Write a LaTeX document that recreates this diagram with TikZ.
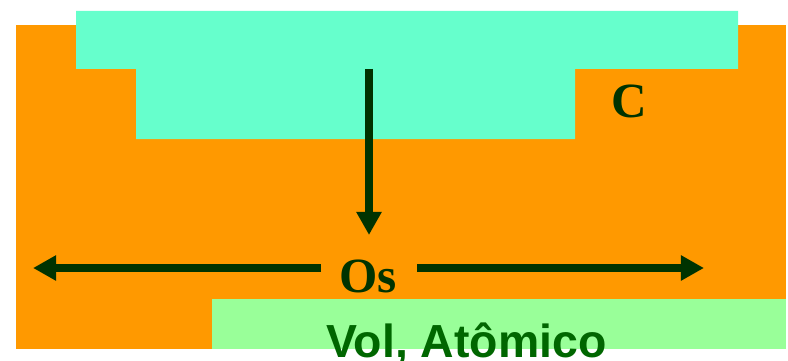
\documentclass[tikz,border=0pt]{standalone}
\usepackage{fontspec}
\usepackage{tikz}
\usetikzlibrary{arrows.meta,positioning,calc}
\usepackage{xcolor}
\newfontfamily\serifbold{Liberation Serif}
\newfontfamily\sansbold{Liberation Sans}
\definecolor{orangefill}{HTML}{FF9900}
\definecolor{aquafill}{HTML}{66FFCC}
\definecolor{palegreen}{HTML}{99FF99}
\definecolor{darkgreen}{HTML}{003300}
\definecolor{textgreen}{HTML}{006600}

\begin{document}
\begin{tikzpicture}[x=0.025cm, y=-0.025cm,
    flow/.style={-{Triangle[length=16.4pt, width=17pt]}, line width=5.7pt, darkgreen},
    elem/.style={font=\serifbold\bfseries\fontsize{35}{40}\selectfont, text=darkgreen, inner sep=0pt, anchor=base}]
  \useasboundingbox (0,0) rectangle (788,361);

  % regions
  \fill[orangefill] (16,25) rectangle (786,349);
  \fill[aquafill] (76,11) -- (738,11) -- (738,69) -- (575,69) -- (575,139)
    -- (136,139) -- (136,69) -- (76,69) -- cycle;
  \fill[palegreen] (212,299) rectangle (786,349);

  % labels
  \node[elem] (c) at (629,117) {C};
  \node[elem] (os) at (368,292) {Os};
  \node[font=\sansbold\bfseries\fontsize{33}{38}\selectfont, text=textgreen,
    inner sep=0pt, anchor=base west] (vol) at (326,357) {Vol, Atômico};

  % arrows
  \coordinate (src) at (369,69);
  \coordinate (snk) at (369,235);
  \coordinate (lsrc) at (321,268);
  \coordinate (lft) at (33,268);
  \coordinate (rsrc) at (417,268);
  \coordinate (rgt) at (704,268);
  \draw[flow] (src) -- (snk);
  \draw[flow] (lsrc) -- (lft);
  \draw[flow] (rsrc) -- (rgt);
\end{tikzpicture}
\end{document}
